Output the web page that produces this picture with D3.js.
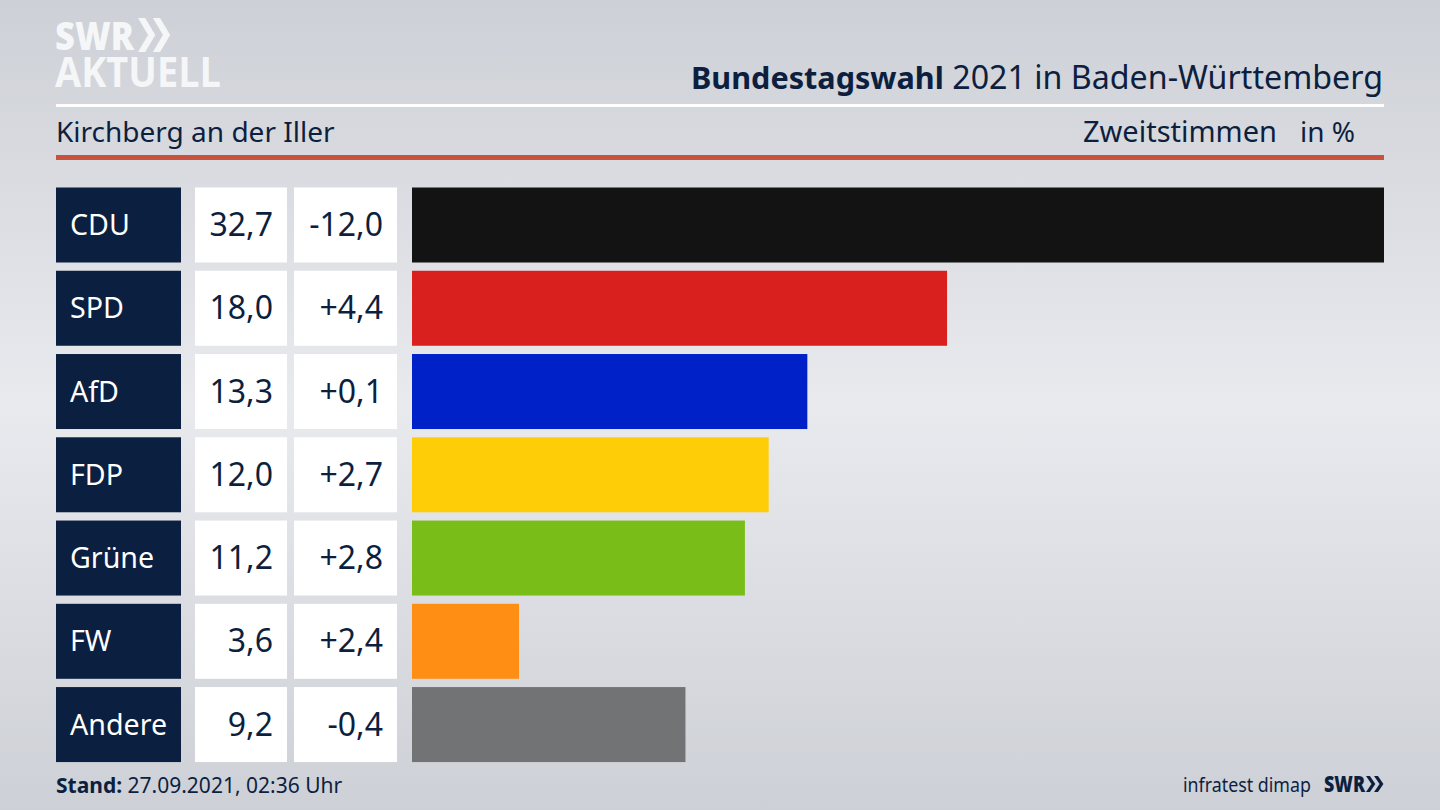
<!DOCTYPE html>
<html><head><meta charset="utf-8">
<script src="https://cdn.jsdelivr.net/npm/d3@7"></script>
<style>html,body{margin:0;padding:0;overflow:hidden;background:#d0d3d8}svg{display:block}text{font-family:"Noto Sans",sans-serif}</style>
</head><body><div id="c"></div>
<script>
const parties=["CDU","SPD","AfD","FDP","Grüne","FW","Andere"];
const shares=[32.7,18.0,13.3,12.0,11.2,3.6,9.2];
const diffs=["-12,0","+4,4","+0,1","+2,7","+2,8","+2,4","-0,4"];
const colours=["#131313","#d9201e","#0021c8","#ffcd08","#79bd18","#ff8e14","#727374"];
const fmt=v=>v.toFixed(1).replace(".",",");
const ink="#0d1f3f";
const svg=d3.select("#c").append("svg").attr("width",1440).attr("height",810);
const defs=svg.append("defs");
const g=defs.append("linearGradient").attr("id","bg").attr("x1",0).attr("x2",0).attr("y1",0).attr("y2",1);
[[0,"#cdd0d6"],[.5,"#e9eaee"],[1,"#cdd0d6"]].forEach(s=>g.append("stop").attr("offset",s[0]).attr("stop-color",s[1]));
svg.append("rect").attr("width",1440).attr("height",810).attr("fill","url(#bg)");

const x=d3.scaleLinear().domain([0,32.7]).range([412,1384]);
const y=d3.scaleBand().domain(parties).range([187.5,762]).paddingInner(0.1);
const h=75;
const yy=d=>y(d);
const row=svg.selectAll("g.row").data(parties).join("g").attr("class","row");
row.append("rect").attr("x",56).attr("y",yy).attr("width",125).attr("height",h).attr("fill","#0b1f40");
row.append("rect").attr("x",195).attr("y",yy).attr("width",92).attr("height",h).attr("fill","#fff");
row.append("rect").attr("x",294).attr("y",yy).attr("width",103).attr("height",h).attr("fill","#fff");
row.append("rect").attr("x",x(0)).attr("y",yy).attr("height",h).attr("width",(d,i)=>x(shares[i])-x(0)).attr("fill",(d,i)=>colours[i]);
row.append("text").attr("x",70).attr("y",d=>yy(d)+h/2+10).attr("font-size",28.6).attr("fill","#fff").text(d=>d);
row.append("text").attr("x",273).attr("y",d=>yy(d)+h/2+11).attr("text-anchor","end").attr("font-size",32).attr("fill",ink).text((d,i)=>fmt(shares[i]));
row.append("text").attr("x",383).attr("y",d=>yy(d)+h/2+11).attr("text-anchor","end").attr("font-size",32).attr("fill",ink).text((d,i)=>diffs[i]);

svg.append("rect").attr("x",56).attr("y",104).attr("width",1328).attr("height",3).attr("fill","#fff");
svg.append("rect").attr("x",56).attr("y",155).attr("width",1328).attr("height",5).attr("fill","#c9523f");

const title=svg.append("text").attr("x",1383).attr("y",89).attr("text-anchor","end").attr("font-size",32.2).attr("fill",ink);
title.append("tspan").attr("font-weight",700).attr("font-size",30.6).text("Bundestagswahl");
title.append("tspan").text(" 2021 in Baden-Württemberg");
svg.append("text").attr("x",56).attr("y",142).attr("font-size",28).attr("fill",ink).text("Kirchberg an der Iller");
svg.append("text").attr("x",1277).attr("y",142).attr("text-anchor","end").attr("font-size",29).attr("fill",ink).text("Zweitstimmen");
svg.append("text").attr("x",1355).attr("y",142).attr("text-anchor","end").attr("font-size",28).attr("fill",ink).text("in %");
const st=svg.append("text").attr("x",56).attr("y",793).attr("font-size",21).attr("fill",ink);
st.append("tspan").attr("font-weight",700).text("Stand:");
st.append("tspan").text(" 27.09.2021, 02:36 Uhr");
svg.append("text").attr("x",1183).attr("y",792).attr("font-size",20).attr("fill",ink).attr("textLength",128).attr("lengthAdjust","spacingAndGlyphs").text("infratest dimap");

const chev=(xx,yt,sx,sy,fill)=>{[0,0.62].forEach(o=>svg.append("path")
 .attr("d",`M0 0L.3 0L.72 .5L.3 1L0 1L.42 .5Z`)
 .attr("transform",`translate(${xx+o*sx},${yt}) scale(${sx},${sy})`).attr("fill",fill));};
const logoFont='"Open Sans",sans-serif';
svg.append("text").attr("x",55).attr("y",50).attr("font-size",39).attr("font-weight",800).attr("fill","#f5f6f7").attr("style",`font-family:${logoFont}`).attr("textLength",79).attr("lengthAdjust","spacingAndGlyphs").text("SWR");
chev(138,18,24,34,"#f5f6f7");
svg.append("text").attr("x",55).attr("y",87).attr("font-size",42).attr("font-weight",700).attr("fill","#f5f6f7").attr("style",`font-family:${logoFont}`).attr("textLength",166).attr("lengthAdjust","spacingAndGlyphs").text("AKTUELL");
svg.append("text").attr("x",1324).attr("y",792).attr("font-size",22).attr("font-weight",800).attr("fill",ink).attr("style",`font-family:${logoFont}`).attr("textLength",41).attr("lengthAdjust","spacingAndGlyphs").text("SWR");
chev(1366,776,13,16,ink);
</script></body></html>
